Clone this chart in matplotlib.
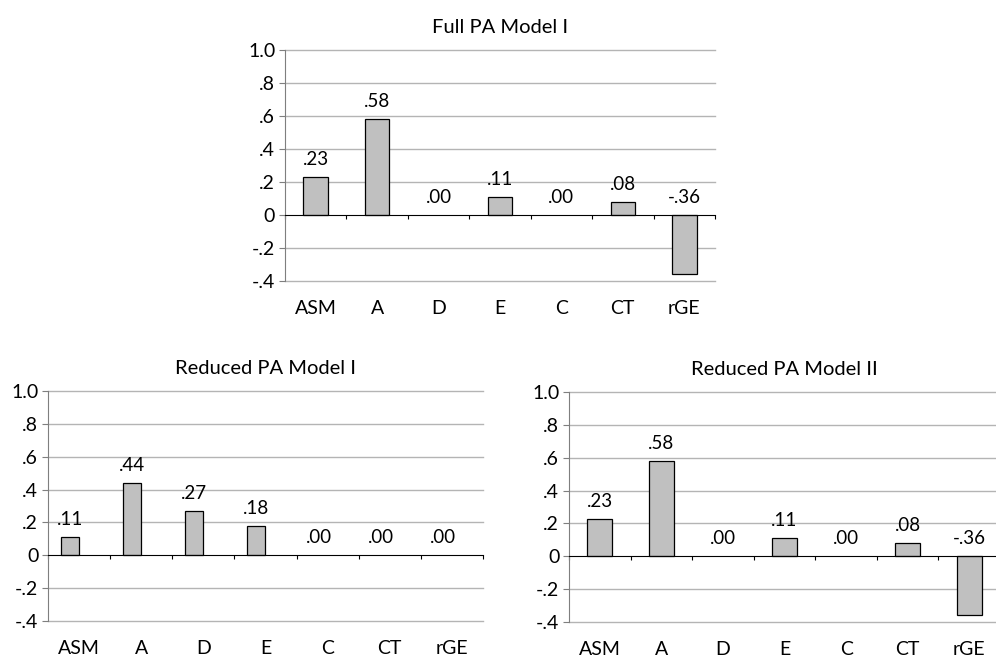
import matplotlib.pyplot as plt

plt.rcParams['font.family'] = ['Lato', 'DejaVu Sans']

categories = ['ASM', 'A', 'D', 'E', 'C', 'CT', 'rGE']
full_model1 = [0.23, 0.58, 0.00, 0.11, 0.00, 0.08, -0.36]
reduced_model1 = [0.11, 0.44, 0.27, 0.18, 0.00, 0.00, 0.00]
reduced_model2 = [0.23, 0.58, 0.00, 0.11, 0.00, 0.08, -0.36]
yticks = [-0.4, -0.2, 0, 0.2, 0.4, 0.6, 0.8, 1.0]
ytick_labels = ['-.4', '-.2', '0', '.2', '.4', '.6', '.8', '1.0']


def fmt(v):
    s = '%.2f' % v
    return s.replace('0.', '.', 1)


def panel(ax, title, values, width=0.4, shift=0.0):
    x = list(range(len(categories)))
    xb = [i + shift for i in x]
    edges = ['black' if v != 0 else 'none' for v in values]
    ax.bar(xb, values, width=width, color='#c0c0c0', edgecolor=edges,
           linewidth=0.9, zorder=3)
    ax.set_xlim(-0.5, len(categories) - 0.5)
    ax.set_ylim(-0.4, 1.0)
    ax.set_yticks(yticks)
    ax.set_yticklabels(ytick_labels)
    for t in yticks:
        if t != 0:
            ax.axhline(t, color='#b4b4b4', linewidth=1.0, zorder=0, clip_on=False)
    for s in ['top', 'right']:
        ax.spines[s].set_visible(False)
    ax.spines['left'].set_color('#7f7f7f')
    ax.spines['bottom'].set_position(('data', 0))
    ax.spines['bottom'].set_color('black')
    ax.spines['bottom'].set_zorder(4)
    ax.set_xticks([i - 0.5 for i in range(len(categories) + 1)])
    ax.set_xticklabels([])
    ax.tick_params(axis='x', length=3, direction='out', color='black')
    ax.tick_params(axis='y', length=4, pad=3, labelsize=14, color='#7f7f7f')
    for i, c in enumerate(categories):
        ax.annotate(c, xy=(i, -0.4), xytext=(0, -19.5), textcoords='offset points',
                    ha='center', va='center', fontsize=14, annotation_clip=False)
    for xi, v in zip(xb, values):
        ax.annotate(fmt(v), xy=(xi, max(v, 0)), xytext=(0, 12.5),
                    textcoords='offset points', ha='center', va='center',
                    fontsize=13.5, annotation_clip=False)
    ax.set_title(title, fontsize=14.5, pad=12)


fig = plt.figure(figsize=(9.96, 6.58), dpi=100)
ax1 = fig.add_axes([0.2861, 0.5729, 0.4317, 0.3511])
ax2 = fig.add_axes([0.0482, 0.0562, 0.4367, 0.3495])
ax3 = fig.add_axes([0.5713, 0.0547, 0.4327, 0.3495])

panel(ax1, 'Full PA Model I', full_model1)
panel(ax2, 'Reduced PA Model I', reduced_model1, width=0.29, shift=-0.145)
panel(ax3, 'Reduced PA Model II', reduced_model2)

fig.savefig('out.png', dpi=100)
